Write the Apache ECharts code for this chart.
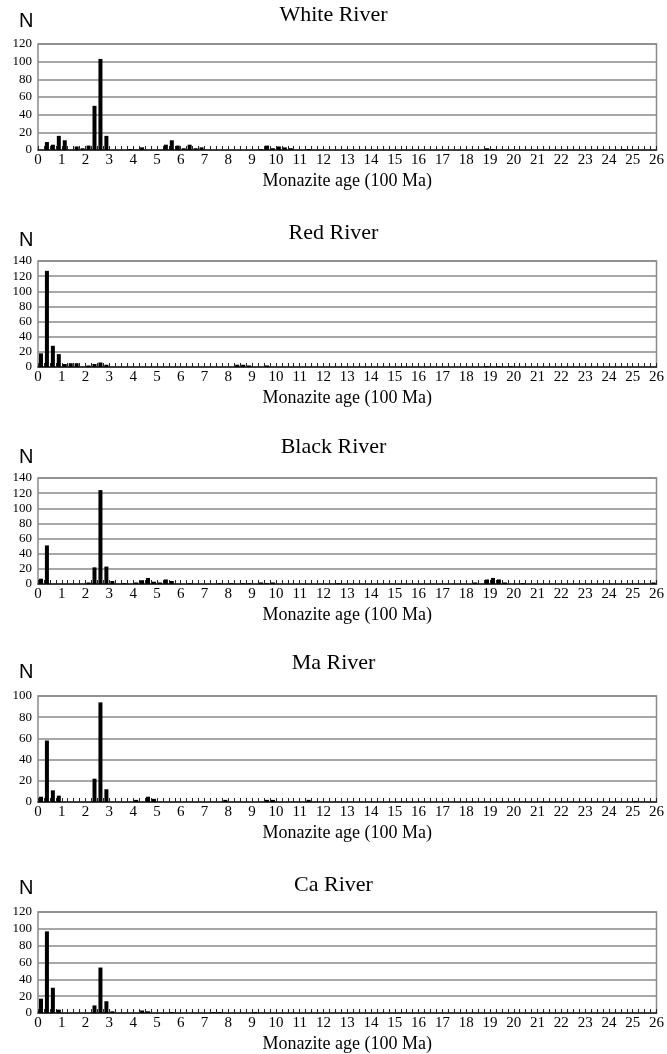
<!DOCTYPE html>
<html>
<head>
<meta charset="utf-8">
<title>Monazite age histograms</title>
<script src="https://cdn.jsdelivr.net/npm/echarts@6/dist/echarts.min.js"></script>
<style>
  html, body { margin: 0; padding: 0; background: #fff; }
  #chart { width: 667px; height: 1054px; }
</style>
</head>
<body>
<div id="chart"></div>
<script>
// bins are 0.25 (x100 Ma) wide; each pair is [bin lower edge, N]
const binWidth = 0.25;
const riverNames = ["White River", "Red River", "Black River", "Ma River", "Ca River"];
const yMax = [120, 140, 140, 100, 120];

const whiteRiver = [
  [0.25, 9], [0.5, 6], [0.75, 16], [1.0, 11], [1.5, 4], [1.75, 2], [2.0, 5],
  [2.25, 50], [2.5, 103], [2.75, 16], [3.75, 1], [4.25, 3], [5.25, 6], [5.5, 11],
  [5.75, 5], [6.0, 2], [6.25, 6], [6.5, 2], [6.75, 3], [9.25, 1], [9.5, 5],
  [9.75, 2], [10.0, 4], [10.25, 3], [10.5, 2], [11.25, 1], [18.75, 2], [19.0, 1],
  [24.5, 1]
];
const redRiver = [
  [0, 18], [0.25, 127], [0.5, 28], [0.75, 17], [1.0, 4], [1.25, 5], [1.5, 5],
  [2.0, 2], [2.25, 4], [2.5, 6], [2.75, 3], [8.25, 3], [8.5, 3], [8.75, 2],
  [9.5, 2], [18.75, 1], [19.25, 1], [19.75, 1]
];
const blackRiver = [
  [0, 7], [0.25, 51], [2.0, 2], [2.25, 22], [2.5, 124], [2.75, 23], [3.0, 4],
  [3.5, 1], [4.0, 2], [4.25, 5], [4.5, 8], [4.75, 3], [5.0, 2], [5.25, 6],
  [5.5, 4], [6.25, 1], [7.5, 1], [8.0, 1], [8.5, 1], [8.75, 1], [9.25, 2],
  [9.5, 1], [9.75, 2], [12.5, 1], [18.25, 2], [18.75, 6], [19.0, 8], [19.25, 6],
  [19.5, 2], [20.25, 1], [25.75, 2]
];
const maRiver = [
  [0, 5], [0.25, 58], [0.5, 11], [0.75, 6], [2.25, 22], [2.5, 94], [2.75, 12],
  [4.0, 2], [4.5, 5], [4.75, 3], [7.75, 2], [9.5, 2], [9.75, 2], [11.25, 2],
  [25.0, 1]
];
const caRiver = [
  [0, 17], [0.25, 97], [0.5, 30], [0.75, 4], [2.25, 9], [2.5, 54], [2.75, 14],
  [3.0, 2], [4.25, 3], [4.5, 2], [5.5, 1], [7.25, 1], [7.5, 1], [9.0, 1]
];
const riverData = [whiteRiver, redRiver, blackRiver, maRiver, caRiver];

// panel layout (px)
const gridTops = [44, 261, 478, 696, 912];
const titleMids = [15, 233, 447, 663, 885];
const nMids = [21, 240, 457, 672, 888];
const plotHeight = 106;

const serif = "Liberation Serif";

const chart = echarts.init(document.getElementById("chart"));

const titles = [];
const grids = [];
const xAxes = [];
const yAxes = [];
const series = [];

riverNames.forEach((name, i) => {
  titles.push({
    text: name,
    left: "center",
    top: titleMids[i] - 11,
    padding: 0,
    textStyle: { fontFamily: serif, fontSize: 22, fontWeight: "normal", color: "#000", lineHeight: 22 },
  });
  titles.push({
    text: "N",
    left: 19,
    top: nMids[i] - 10,
    padding: 0,
    textStyle: { fontFamily: "Liberation Sans", fontSize: 20, fontWeight: "normal", color: "#000", lineHeight: 20 },
  });

  grids.push({
    left: 38,
    right: 8,
    top: gridTops[i],
    height: plotHeight,
    show: true,
    borderColor: "#8a8a8a",
    borderWidth: 1.5,
  });

  xAxes.push({
    type: "value",
    gridIndex: i,
    min: 0,
    max: 26,
    interval: 1,
    name: "Monazite age (100 Ma)",
    nameLocation: "middle",
    nameGap: 22,
    nameTextStyle: { fontFamily: serif, fontSize: 18, color: "#000", verticalAlign: "top" },
    axisLine: { lineStyle: { color: "#222", width: 1.5 } },
    axisTick: { inside: true, length: 4, lineStyle: { color: "#222" } },
    minorTick: { show: true, splitNumber: 4, length: 4, lineStyle: { color: "#222" } },
    axisLabel: { fontFamily: serif, fontSize: 15, color: "#000", margin: 3 },
    splitLine: { show: false },
  });

  yAxes.push({
    type: "value",
    gridIndex: i,
    min: 0,
    max: yMax[i],
    interval: 20,
    axisLine: { show: false },
    axisTick: { show: false },
    axisLabel: { fontFamily: serif, fontSize: 13, color: "#000", margin: 6 },
    splitLine: { lineStyle: { color: "#8a8a8a", width: 1.5 } },
  });

  series.push({
    name: name,
    type: "bar",
    xAxisIndex: i,
    yAxisIndex: i,
    barWidth: 4,
    itemStyle: { color: "#000" },
    data: riverData[i].map(([age, n]) => [age + binWidth / 2, n]),
  });
});

chart.setOption({
  animation: false,
  backgroundColor: "#fff",
  title: titles,
  grid: grids,
  xAxis: xAxes,
  yAxis: yAxes,
  series: series,
});
</script>
</body>
</html>
